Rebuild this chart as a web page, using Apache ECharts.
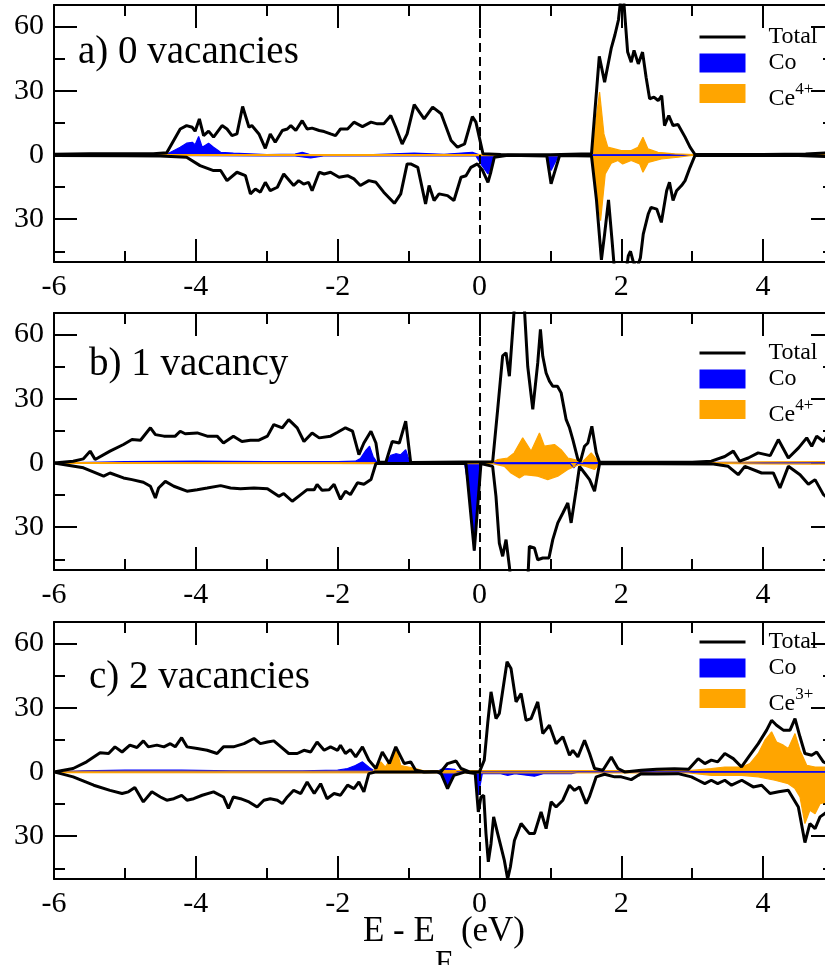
<!DOCTYPE html>
<html>
<head>
<meta charset="utf-8">
<script src="https://cdn.jsdelivr.net/npm/echarts@6.0.0/dist/echarts.min.js"></script>
<style>
html,body{margin:0;padding:0;background:#fff;}
#dos{width:825px;height:965px;}
</style>
</head>
<body>
<div id="dos"></div>
<script>
// tick values
var xMajor = [-6, -4, -2, 0, 2, 4];
var xMinor = [-5, -3, -1, 1, 3];
var yMajor = [-30, 0, 30, 60];
var yMinor = [-45, -15, 15, 45];

// panel a) 0 vacancies  [E, DOS]
var totUpA = [[-6,0.3],[-5.5,0.6],[-5,0.6],[-4.6,0.5],[-4.41,1],[-4.22,12.1],[-4.13,13.7],[-4.05,12.9],[-4.01,11.1],[-3.95,16.8],[-3.89,9],[-3.82,11.1],[-3.75,8.3],[-3.63,13.7],[-3.56,12.1],[-3.49,9],[-3.42,9.8],[-3.34,22.6],[-3.25,12.9],[-3.21,13.7],[-3.11,9.8],[-3.02,3.1],[-2.95,9.8],[-2.88,5.9],[-2.78,11.4],[-2.71,12.1],[-2.66,13.7],[-2.59,11.4],[-2.5,16],[-2.43,12.1],[-2.36,12.5],[-2.26,11.4],[-2.19,10.9],[-2.1,9.8],[-2.03,9],[-1.96,12.1],[-1.86,12.1],[-1.77,15.3],[-1.65,13.2],[-1.53,15.3],[-1.44,14.5],[-1.35,14.5],[-1.25,18.4],[-1.18,12.9],[-1.09,5.1],[-1.02,9.8],[-0.92,23.5],[-0.78,16.8],[-0.66,22.3],[-0.54,19.2],[-0.4,6.7],[-0.31,3.6],[-0.21,5.1],[-0.1,17.9],[-0.05,15.3],[0.05,0.5],[0.3,0.2],[1.0,0.1],[1.58,0.5],[1.69,46],[1.765,34],[1.86,50],[1.91,56],[1.96,63],[1.99,72],[2.03,74],[2.09,48],[2.14,43.3],[2.18,48.8],[2.24,42.5],[2.3,48],[2.35,36.3],[2.4,26.2],[2.46,27],[2.52,25.4],[2.57,27.7],[2.61,13.7],[2.67,18.4],[2.73,13.7],[2.8,14.2],[2.9,8.3],[2.97,3.6],[3.04,0.2],[4.0,0.2],[4.6,0.4],[4.9,1]];
var totDnA = [[-6,-0.3],[-5,-0.4],[-4.5,-0.5],[-4.13,-1.1],[-3.94,-5],[-3.75,-7.3],[-3.65,-7.3],[-3.56,-12],[-3.42,-8.1],[-3.3,-9.7],[-3.23,-18.2],[-3.16,-15.9],[-3.09,-17.4],[-3.02,-12.8],[-2.95,-16.7],[-2.85,-15.1],[-2.76,-8.9],[-2.66,-12.8],[-2.62,-14.3],[-2.55,-12],[-2.48,-13.6],[-2.41,-12.8],[-2.36,-16.7],[-2.26,-8.1],[-2.19,-8.9],[-2.1,-8.1],[-1.98,-10.4],[-1.86,-9.7],[-1.77,-11.2],[-1.68,-14.3],[-1.56,-12],[-1.46,-12.8],[-1.35,-17.4],[-1.2,-22.6],[-1.11,-18.2],[-1.02,-4.2],[-0.97,-4.2],[-0.87,-5.8],[-0.76,-22.9],[-0.71,-14.3],[-0.64,-21.3],[-0.57,-18.2],[-0.45,-19],[-0.36,-21.3],[-0.26,-10.4],[-0.19,-9.7],[-0.12,-5.8],[-0.03,-4.2],[0.045,-7.3],[0.12,-12.8],[0.16,-8.1],[0.21,-1.1],[0.4,-0.2],[0.95,-0.5],[1.01,-13.5],[1.08,-5.8],[1.13,-0.3],[1.58,-0.5],[1.65,-21],[1.72,-49],[1.765,-37],[1.82,-21],[1.87,-40],[1.91,-56],[2.06,-56],[2.1,-47],[2.13,-45],[2.17,-50],[2.22,-53],[2.27,-48],[2.31,-37],[2.38,-27.6],[2.42,-24.5],[2.5,-25.3],[2.565,-31.5],[2.64,-16.7],[2.68,-12.8],[2.73,-21.3],[2.78,-16.7],[2.85,-14.3],[2.9,-12],[2.97,-5.8],[3.04,-0.2],[4.5,-0.3],[4.9,-0.8]];
var coUpA = [[-6,0],[-4.5,0],[-4.41,0.3],[-4.22,3.6],[-4.13,5.5],[-4.05,5.9],[-4.01,4.8],[-3.96,8.6],[-3.91,3.6],[-3.82,5.5],[-3.75,3.6],[-3.65,1.2],[-3.47,0.8],[-3.0,0.2],[-2.6,0.4],[-2.5,1.2],[-2.4,0.3],[-1.5,0.2],[-0.92,0.8],[-0.5,0.3],[-0.1,1.2],[0,0],[5,0]];
var coDnA = [[-6,0],[-3.04,-0.5],[-2.6,-0.5],[-2.38,-1.4],[-2.2,-0.5],[-0.05,-0.5],[0.02,-4.2],[0.12,-8.9],[0.16,-5.8],[0.21,-0.4],[0.95,-0.4],[1.01,-7.3],[1.08,-2.6],[1.12,-0.2],[5,0]];
var ceUpA = [[-6,0.2],[1.58,0.2],[1.694,29.3],[1.755,9.8],[1.81,3.6],[1.906,2.8],[2.0,2],[2.14,2],[2.236,3.6],[2.306,8.3],[2.377,2.8],[2.518,1.2],[2.754,0.5],[3.02,0.1],[5,0.1]];
var ceDnA = [[-6,-0.2],[1.58,-0.3],[1.708,-30.7],[1.774,-8.9],[1.859,-3.9],[1.953,-2.6],[2.02,-4.2],[2.14,-2.6],[2.26,-4.2],[2.306,-8.1],[2.38,-3.5],[2.565,-1.9],[2.8,-1.1],[3.0,-0.2],[5,-0.1]];

// panel b) 1 vacancy
var totUpB = [[-6,0],[-5.73,0.8],[-5.585,1.9],[-5.49,5.5],[-5.42,1.6],[-5.21,5.5],[-5.02,8.6],[-4.9,10.9],[-4.78,10.6],[-4.64,16.4],[-4.57,13.2],[-4.45,12.5],[-4.29,12.5],[-4.22,14.8],[-4.15,13.6],[-3.98,14],[-3.84,12.5],[-3.7,12.5],[-3.61,9.3],[-3.47,12.5],[-3.35,10],[-3.23,10.6],[-3.11,10.6],[-2.99,12.5],[-2.9,17.9],[-2.78,16.4],[-2.69,20.2],[-2.57,16.4],[-2.475,10],[-2.36,14],[-2.26,11.7],[-2.1,12.5],[-2.0,14.3],[-1.89,16.4],[-1.79,14.8],[-1.7,3.9],[-1.63,9.3],[-1.53,14.8],[-1.46,9.3],[-1.42,0.3],[-1.32,0.3],[-1.23,10],[-1.13,9.3],[-1.04,19.5],[-0.97,0.2],[0.186,0.5],[0.257,25],[0.327,50],[0.375,51.4],[0.422,40.5],[0.49,71.6],[0.52,80],[0.61,80],[0.634,72],[0.681,45],[0.752,25],[0.822,46.7],[0.86,62.3],[0.893,49.8],[0.94,42],[0.987,38.2],[1.034,35.8],[1.1,35.8],[1.152,32.7],[1.223,20.2],[1.27,16.4],[1.317,10.9],[1.388,1.6],[1.425,0.8],[1.482,7.8],[1.529,9.3],[1.585,17.1],[1.647,4.7],[1.694,0.3],[3.0,0.3],[3.27,0.8],[3.46,3],[3.58,5.5],[3.67,0.8],[3.79,2.3],[3.93,4.7],[4.1,3.4],[4.215,10.9],[4.356,2.3],[4.5,7],[4.615,11.7],[4.686,7.8],[4.756,12.5],[4.851,10],[4.9,12.5]];
var totDnB = [[-6,0],[-5.585,-2.3],[-5.3,-6.2],[-5.21,-4.7],[-5.02,-7],[-4.9,-7.8],[-4.74,-9],[-4.64,-10.9],[-4.57,-16.4],[-4.525,-11.7],[-4.43,-8.6],[-4.31,-10.9],[-4.125,-13.2],[-3.98,-12.5],[-3.84,-11.7],[-3.65,-10.6],[-3.51,-11.7],[-3.37,-12.1],[-3.18,-11.7],[-2.99,-12.1],[-2.83,-15.6],[-2.76,-14.3],[-2.64,-17.9],[-2.52,-14.8],[-2.43,-12.5],[-2.33,-12.5],[-2.29,-10],[-2.22,-12.8],[-2.12,-12.5],[-2.05,-10],[-1.96,-17],[-1.89,-13.2],[-1.82,-14.8],[-1.72,-9.3],[-1.63,-10],[-1.53,-7.8],[-1.46,-0.3],[-0.19,-0.3],[-0.073,-41],[0.021,-0.3],[0.186,-1.6],[0.233,-15.6],[0.28,-37.4],[0.327,-43.6],[0.375,-35.8],[0.422,-48.3],[0.445,-56],[0.68,-56],[0.704,-39],[0.775,-39.7],[0.822,-45.2],[0.893,-44.4],[0.98,-44.4],[1.034,-35.8],[1.105,-28],[1.176,-23.4],[1.246,-18.7],[1.293,-28],[1.364,-12.5],[1.411,-1.6],[1.482,-4.7],[1.553,-7.8],[1.623,-13.2],[1.694,-0.3],[3.3,-0.5],[3.508,-1.6],[3.649,-5.5],[3.743,-1.6],[3.979,-4.7],[4.144,-4.7],[4.238,-11.7],[4.356,-1.6],[4.521,-5.5],[4.639,-10],[4.733,-7.8],[4.851,-14.8],[4.9,-16]];
var coUpB = [[-6,0],[-5.5,0.3],[-5,0.6],[-4,0.8],[-3,0.6],[-2,0.6],[-1.75,0.8],[-1.68,2],[-1.6,6],[-1.55,7.8],[-1.5,3],[-1.44,0],[-1.32,0],[-1.25,3.5],[-1.18,4.3],[-1.11,3.8],[-1.04,6.2],[-0.98,0],[1.7,0.2],[3.3,0.3],[5,0]];
var coDnB = [[-6,0],[-0.21,-0.3],[-0.15,-12],[-0.073,-41],[-0.03,-14],[0.03,-0.3],[1.28,-0.3],[1.33,-2.3],[1.38,-0.3],[5,0]];
var ceUpB = [[-6,0.2],[0.19,0.3],[0.257,1.6],[0.398,2.3],[0.49,4.7],[0.61,11.7],[0.657,9.3],[0.728,5.5],[0.846,14],[0.916,7.8],[1.058,8.6],[1.152,6.2],[1.246,2.3],[1.34,1.6],[1.45,0.3],[1.576,4.7],[1.69,0.2],[3.3,0.2],[4,0.5],[4.9,0.6]];
var ceDnB = [[-6,-0.2],[0.19,-0.3],[0.351,-1.6],[0.445,-4.7],[0.563,-7],[0.634,-5.5],[0.822,-6.2],[0.963,-7.8],[1.105,-6.2],[1.246,-3.1],[1.4,-0.8],[1.5,-1.6],[1.623,-3.1],[1.69,-0.2],[3.3,-0.2],[4,-0.5],[4.9,-0.6]];

// panel c) 2 vacancies
var totUpC = [[-6,0],[-5.73,1.6],[-5.54,4.7],[-5.35,8.9],[-5.23,8.6],[-5.14,11.7],[-5.04,9.3],[-4.93,12.5],[-4.83,11.4],[-4.74,14.5],[-4.67,11.7],[-4.55,12.5],[-4.45,11.7],[-4.36,13.2],[-4.29,11.7],[-4.2,16],[-4.125,11.7],[-3.98,10.9],[-3.84,10.1],[-3.7,8.6],[-3.61,11.7],[-3.47,11.7],[-3.32,13.2],[-3.18,15.6],[-3.09,13.2],[-2.99,14],[-2.9,14.5],[-2.8,11.7],[-2.69,8.6],[-2.57,8.6],[-2.475,10.1],[-2.38,9.3],[-2.29,14],[-2.19,10.1],[-2.1,11.7],[-2.0,10.1],[-1.96,12.5],[-1.89,8.6],[-1.82,10.4],[-1.745,7],[-1.65,11.7],[-1.56,5.5],[-1.46,1.6],[-1.37,9.3],[-1.27,3.9],[-1.18,11.7],[-1.06,3.9],[-0.97,4.7],[-0.9,0.8],[-0.78,0],[-0.54,0.2],[-0.45,3.9],[-0.33,5.1],[-0.26,1.6],[-0.14,0],[0,0],[0.068,5.5],[0.116,22.6],[0.163,37.4],[0.233,24.9],[0.28,27.3],[0.389,51.4],[0.445,48.3],[0.516,32.7],[0.587,36.6],[0.657,24.1],[0.728,24.9],[0.822,32.7],[0.893,17.9],[0.987,21.8],[1.081,13.2],[1.176,16.4],[1.27,7.8],[1.317,10.1],[1.388,7],[1.482,14.8],[1.553,8.6],[1.623,1.6],[1.741,0.8],[1.859,7],[1.953,1.6],[2.047,0],[2.283,0.8],[2.5,1.3],[2.75,1.5],[2.95,1.2],[3.084,6.2],[3.178,3.9],[3.27,5.5],[3.36,4.7],[3.46,8.6],[3.58,6.2],[3.696,2.3],[3.814,7.8],[3.932,13.2],[4.05,19.5],[4.12,24.1],[4.19,21.8],[4.285,19.5],[4.38,19.5],[4.45,24.9],[4.52,16.4],[4.59,8.6],[4.685,7.8],[4.756,9.3],[4.85,4.7],[4.9,4]];
var totDnC = [[-6,0],[-5.73,-2.3],[-5.44,-6.2],[-5.21,-8.6],[-5.04,-10.1],[-4.95,-9.3],[-4.86,-7.3],[-4.74,-14],[-4.62,-9.3],[-4.5,-11.7],[-4.41,-13.2],[-4.31,-12.5],[-4.2,-10.9],[-4.125,-13.2],[-4.03,-12.5],[-3.91,-10.9],[-3.75,-9.3],[-3.61,-11.7],[-3.54,-17],[-3.47,-11.7],[-3.37,-12.5],[-3.25,-14],[-3.135,-16.4],[-3.04,-13.2],[-2.95,-12.5],[-2.85,-13.2],[-2.78,-14.8],[-2.71,-11.7],[-2.62,-8.6],[-2.52,-10.1],[-2.43,-4.7],[-2.33,-10.1],[-2.24,-5.5],[-2.15,-12.5],[-2.05,-10.1],[-1.96,-10.9],[-1.86,-6.2],[-1.77,-7.8],[-1.7,-4.7],[-1.63,-9.3],[-1.56,-0.8],[-1.46,0],[-0.6,0],[-0.54,-0.8],[-0.45,-7.8],[-0.36,-1.6],[-0.2,0],[-0.06,-0.8],[-0.016,-18.7],[0.021,-11.7],[0.06,-10.9],[0.092,-28.8],[0.125,-42],[0.163,-33.5],[0.2,-21],[0.257,-28.8],[0.304,-35],[0.351,-41.3],[0.398,-50],[0.436,-44.4],[0.493,-32],[0.587,-24.1],[0.704,-28.8],[0.775,-28.8],[0.869,-18.7],[0.94,-26.5],[1.011,-14],[1.081,-16.4],[1.176,-13.2],[1.27,-6.2],[1.34,-8.6],[1.411,-7],[1.505,-14.8],[1.55,-11.7],[1.647,-2.3],[1.764,-1.1],[1.906,-2.3],[2.0,-2.3],[2.141,-3.6],[2.24,-1.6],[2.28,-0.8],[2.5,-1],[2.8,-0.8],[2.99,-2.3],[3.084,-3.9],[3.178,-5.5],[3.27,-3.9],[3.36,-5.5],[3.46,-3.9],[3.555,-6.2],[3.7,-3.9],[3.86,-7],[3.98,-6.2],[4.097,-10.1],[4.22,-9.3],[4.355,-8.6],[4.497,-16.4],[4.59,-33],[4.66,-24.1],[4.733,-26.5],[4.803,-21],[4.9,-18.7]];
var coUpC = [[-6,0],[-5.6,0.5],[-5,0.8],[-4.2,0.8],[-3.5,0.5],[-2.5,0.5],[-2.0,0.8],[-1.86,1.6],[-1.75,3],[-1.65,4.7],[-1.55,2],[-1.46,0],[-0.6,0],[-0.54,1.2],[-0.45,1.6],[-0.35,1.2],[-0.3,0],[5,0]];
var coDnC = [[-6,0],[-0.6,0],[-0.54,-1.5],[-0.45,-7],[-0.38,-1.2],[-0.3,0],[-0.06,-0.5],[-0.016,-10.9],[0.04,-0.8],[0.3,-0.8],[0.4,-1.6],[0.5,-0.8],[0.775,-2],[0.9,-0.8],[1.3,-0.8],[1.4,0],[5,0]];
var ceUpC = [[-6,0.3],[-1.5,0.3],[-1.44,3],[-1.39,4.7],[-1.33,2.3],[-1.25,6],[-1.18,11.7],[-1.11,3],[-1.0,2.3],[-0.9,1.6],[-0.8,0.6],[2.95,0.6],[3.27,1.6],[3.46,2.3],[3.7,2.3],[3.814,3.9],[3.932,8.6],[4.026,14.8],[4.12,18.7],[4.19,14],[4.285,12.5],[4.355,10.9],[4.45,17.9],[4.52,10.1],[4.615,3.1],[4.733,2.3],[4.9,2.3]];
var ceDnC = [[-6,-0.3],[2.95,-0.5],[3.27,-1.6],[3.7,-1.6],[3.932,-2.3],[4.167,-3.9],[4.355,-5.5],[4.45,-7.8],[4.52,-11.7],[4.59,-24.1],[4.66,-17.9],[4.733,-19.5],[4.803,-14.8],[4.9,-14]];

var panelLabels = ['a) 0 vacancies', 'b) 1 vacancy', 'c) 2 vacancies'];
var ceNames = ['Ce4+', 'Ce4+', 'Ce3+'];

var SERIF = '"Liberation Serif", "DejaVu Serif", serif';
var BLUE = '#0000ff', ORANGE = '#ffa500';

var panels = [
	{totUp: totUpA, totDn: totDnA, coUp: coUpA, coDn: coDnA, ceUp: ceUpA, ceDn: ceDnA},
	{totUp: totUpB, totDn: totDnB, coUp: coUpB, coDn: coDnB, ceUp: ceUpB, ceDn: ceDnB},
	{totUp: totUpC, totDn: totDnC, coUp: coUpC, coDn: coDnC, ceUp: ceUpC, ceDn: ceDnC}
];
var gridTops = [5, 313, 622];
var labelLeft = [78, 89, 89];
var labelTops = [33, 345, 658];
var legendTops = [24, 340, 629];

var grids = [], xAxes = [], yAxes = [], series = [], titles = [], legends = [];

function tickAxis(kind, i, pos, vals, len, withLine, withLabel){
	var ax = {
		gridIndex: i,
		type: 'value',
		position: pos,
		splitLine: {show: false},
		axisLine: {show: withLine, onZero: false, lineStyle: {color: '#000', width: 2}},
		axisTick: {show: true, inside: true, length: len, customValues: vals, lineStyle: {color: '#000', width: 2}},
		axisLabel: {show: false}
	};
	if (kind == 'x') { ax.min = -6; ax.max = 5; }
	else { ax.min = -50; ax.max = 70; }
	if (withLabel) {
		ax.axisLabel = {
			show: true,
			customValues: vals,
			color: '#000',
			fontFamily: SERIF,
			fontSize: 30,
			margin: 10
		};
		// DOS axis shows spin-down values without sign
		if (kind == 'y') ax.axisLabel.formatter = function(v){ return String(Math.abs(v)); };
	}
	return ax;
}

for (var i = 0; i < 3; i++) {
	var p = panels[i];
	// plot box runs a little past the right edge of the picture
	grids.push({left: 54, width: 780, top: gridTops[i], height: 257, outerBoundsMode: 'none', containLabel: false});

	var xb = tickAxis('x', i, 'bottom', xMajor, 23, true, true);
	if (i == 2) {
		xb.name = '{a|E - E}{f|F}{a| (eV)}';
		xb.nameLocation = 'middle';
		xb.nameGap = 47;
		xb.nameMoveOverlap = false;
		xb.nameTextStyle = {
			color: '#000',
			fontFamily: SERIF,
			rich: {
				a: {fontFamily: SERIF, fontSize: 35, lineHeight: 35, padding: [6, 0, 30, 0], color: '#000'},
				f: {fontFamily: SERIF, fontSize: 31, lineHeight: 31, padding: [40, 0, 0, 0], color: '#000'}
			}
		};
	}
	xAxes.push(xb);
	xAxes.push(tickAxis('x', i, 'bottom', xMinor, 11, false, false));
	xAxes.push(tickAxis('x', i, 'top', xMajor, 23, true, false));
	xAxes.push(tickAxis('x', i, 'top', xMinor, 11, false, false));

	yAxes.push(tickAxis('y', i, 'left', yMajor, 23, true, true));
	yAxes.push(tickAxis('y', i, 'left', yMinor, 11, false, false));
	yAxes.push(tickAxis('y', i, 'right', yMajor, 23, true, false));
	yAxes.push(tickAxis('y', i, 'right', yMinor, 11, false, false));

	var xi = 4 * i, yi = 4 * i;
	var fill = function(name, data, color){
		return {
			type: 'line', name: name, xAxisIndex: xi, yAxisIndex: yi, data: data,
			symbol: 'none', animation: false, z: 2,
			lineStyle: {color: color, width: 1.2},
			itemStyle: {color: color},
			areaStyle: {color: color, opacity: 1}
		};
	};
	series.push(fill('Co', p.coUp, BLUE));
	series.push(fill('Co', p.coDn, BLUE));
	series.push(fill(ceNames[i], p.ceUp, ORANGE));
	series.push(fill(ceNames[i], p.ceDn, ORANGE));
	series.push({
		type: 'line', name: 'Total', xAxisIndex: xi, yAxisIndex: yi, data: p.totUp,
		symbol: 'none', animation: false, z: 3,
		lineStyle: {color: '#000', width: 3},
		itemStyle: {color: '#000'},
		markLine: {
			silent: true, symbol: ['none', 'none'], animation: false,
			label: {show: false},
			lineStyle: {color: '#000', width: 2, type: [9, 5]},
			data: [{xAxis: 0}]
		}
	});
	series.push({
		type: 'line', name: 'Total', xAxisIndex: xi, yAxisIndex: yi, data: p.totDn,
		symbol: 'none', animation: false, z: 3,
		lineStyle: {color: '#000', width: 3},
		itemStyle: {color: '#000'}
	});

	titles.push({
		text: panelLabels[i], left: labelLeft[i], top: labelTops[i], padding: 0,
		textStyle: {fontFamily: SERIF, fontSize: 39, fontWeight: 'normal', color: '#000', lineHeight: 39}
	});

	legends.push({
		left: 698, top: legendTops[i], orient: 'vertical', padding: 0,
		itemGap: 0, itemWidth: 46, itemHeight: 19, selectedMode: false,
		data: [
			{name: 'Total', lineStyle: {width: 3, color: '#000'},
			 itemStyle: {color: 'rgba(0,0,0,0)', borderColor: 'rgba(0,0,0,0)', borderWidth: 0}},
			{name: 'Co', icon: 'rect'},
			{name: ceNames[i], icon: 'rect'}
		],
		formatter: function(name){
			if (name.indexOf('Ce') == 0) return '{c|Ce}{s|' + name.slice(2) + '}';
			return '{t|' + name + '}';
		},
		textStyle: {
			fontFamily: SERIF, fontSize: 24, color: '#000',
			rich: {
				t: {fontFamily: SERIF, fontSize: 24, lineHeight: 24, padding: [1, 0, 1, 18], color: '#000'},
				c: {fontFamily: SERIF, fontSize: 24, lineHeight: 24, padding: [11, 0, 0, 18], color: '#000'},
				s: {fontFamily: SERIF, fontSize: 17, lineHeight: 17, padding: [5, 0, 13, 0], color: '#000'}
			}
		}
	});
}

var chart = echarts.init(document.getElementById('dos'), null, {renderer: 'canvas'});
chart.setOption({
	animation: false,
	backgroundColor: '#fff',
	title: titles,
	legend: legends,
	grid: grids,
	xAxis: xAxes,
	yAxis: yAxes,
	series: series
});
</script>
</body>
</html>
